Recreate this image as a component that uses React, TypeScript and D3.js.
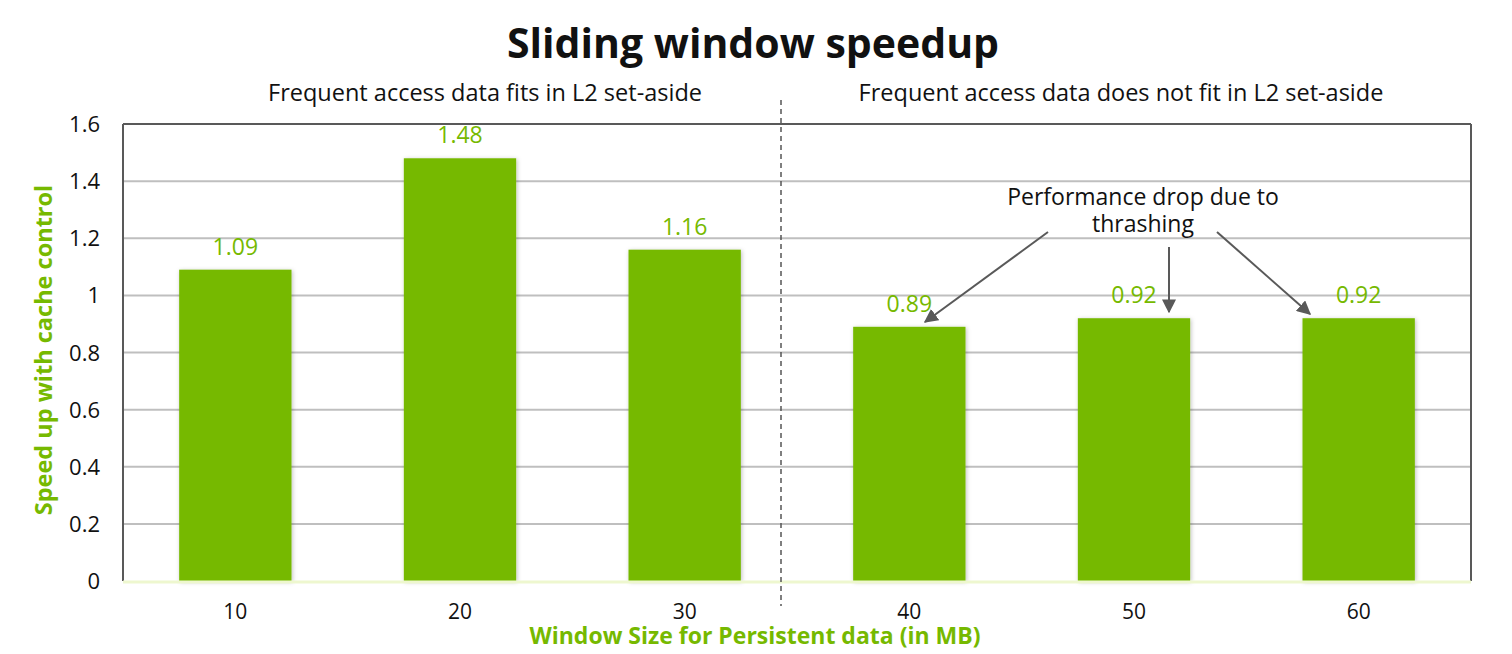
import React from "react";
import * as d3 from "d3";

const categories = ["10", "20", "30", "40", "50", "60"];
const speedups = [1.09, 1.48, 1.16, 0.89, 0.92, 0.92];
const yTicks = [0, 0.2, 0.4, 0.6, 0.8, 1, 1.2, 1.4, 1.6];
const title = "Sliding window speedup";
const leftNote = "Frequent access data fits in L2 set-aside";
const rightNote = "Frequent access data does not fit in L2 set-aside";
const thrashNote = ["Performance drop due to", "thrashing"];
const xTitle = "Window Size for Persistent data (in MB)";
const yTitle = "Speed up with cache control";

const W = 1512;
const H = 654;
const FONT = "'Open Sans', sans-serif";
const GREEN = "#76b900";

export default function App() {
  const left = 123, right = 1471, top = 124, bottom = 581;
  const x = d3.scaleBand<string>().domain(categories).range([left, right]).paddingInner(0.5).paddingOuter(0.25);
  const y = d3.scaleLinear().domain([0, 1.6]).range([bottom, top]);
  const fmt = (v: number) => (v === 0 || v === 1 ? String(v) : v.toFixed(1));
  const divX = 781;
  const cx = (c: string) => x(c)! + x.bandwidth() / 2;

  return (
    <svg width={W} height={H} style={{ position: "absolute", left: 0, top: 0, background: "#fff" }} fontFamily={FONT}>
      <defs>
        <filter id="sh" x="-10%" y="-10%" width="130%" height="130%">
          <feDropShadow dx="1" dy="1" stdDeviation="2" floodColor="#000" floodOpacity="0.25" />
        </filter>
        <marker id="ah" viewBox="0 0 10 10" refX="9" refY="5" markerWidth="4.5" markerHeight="4.5" orient="auto-start-reverse">
          <path d="M0,0 L10,5 L0,10 z" fill="#0b8a5f" />
        </marker>
        <marker id="gh" viewBox="0 0 10 10" refX="9" refY="5" markerWidth="7" markerHeight="7" orient="auto">
          <path d="M0,0 L10,5 L0,10 z" fill="#595959" />
        </marker>
      </defs>
      {/* title */}
      <text x={753} y={58} textAnchor="middle" fontSize={41} fontWeight="bold" fill="#111">{title}</text>
      <text x={485} y={101} textAnchor="middle" fontSize={23.5} fill="#111">{leftNote}</text>
      <text x={1121} y={101} textAnchor="middle" fontSize={23.5} fill="#111">{rightNote}</text>

      {/* gridlines */}
      {yTicks.slice(1, -1).map((t) => (
        <line key={t} x1={left} x2={right} y1={y(t)} y2={y(t)} stroke="#bfbfbf" strokeWidth={2} />
      ))}
      {/* frame */}
      <line x1={left} x2={right} y1={y(1.6)} y2={y(1.6)} stroke="#595959" strokeWidth={2} />
      <line x1={left} x2={left} y1={top} y2={bottom} stroke="#595959" strokeWidth={2} />
      <line x1={right} x2={right} y1={top} y2={bottom} stroke="#595959" strokeWidth={2} />

      {/* y ticks */}
      {yTicks.map((t) => (
        <text key={t} x={100} y={y(t) + 8} textAnchor="end" fontSize={22} fill="#111">{fmt(t)}</text>
      ))}

      {/* bars */}
      {categories.map((c, i) => (
        <rect key={c} x={x(c)} y={y(speedups[i])} width={x.bandwidth()} height={bottom - y(speedups[i])} fill={GREEN} filter="url(#sh)" />
      ))}
      <line x1={left} x2={right} y1={bottom + 1} y2={bottom + 1} stroke="#eef7cf" strokeWidth={3} />

      {/* value labels */}
      {categories.map((c, i) => (
        <text key={c} x={cx(c)} y={y(speedups[i]) - 15} textAnchor="middle" fontSize={23} fill={GREEN}>{speedups[i].toFixed(2)}</text>
      ))}

      {/* x ticks */}
      {categories.map((c) => (
        <text key={c} x={cx(c)} y={619} textAnchor="middle" fontSize={21} fill="#111">{c}</text>
      ))}

      {/* divider */}
      <line x1={divX} x2={divX} y1={100} y2={606} stroke="#555" strokeWidth={1.5} strokeDasharray="5,4" />

      {/* double arrow */}
      <line x1={528} x2={1074} y1={143} y2={143} stroke="#0b8a5f" strokeWidth={4} markerStart="url(#ah)" markerEnd="url(#ah)" filter="url(#sh)" />

      {/* thrashing annotation */}
      <text x={1143} y={205} textAnchor="middle" fontSize={23} fill="#111">{thrashNote[0]}</text>
      <text x={1143} y={232} textAnchor="middle" fontSize={23} fill="#111">{thrashNote[1]}</text>
      <line x1={1048} y1={232} x2={925} y2={322} stroke="#595959" strokeWidth={2} markerEnd="url(#gh)" />
      <line x1={1169} y1={247} x2={1169} y2={312} stroke="#595959" strokeWidth={2} markerEnd="url(#gh)" />
      <line x1={1217} y1={232} x2={1310} y2={314} stroke="#595959" strokeWidth={2} markerEnd="url(#gh)" />

      {/* axis titles */}
      <text x={755} y={644} textAnchor="middle" fontSize={23} fontWeight="bold" fill={GREEN}>{xTitle}</text>
      <text transform={`translate(52,${350}) rotate(-90)`} textAnchor="middle" fontSize={23.5} fontWeight="bold" fill={GREEN}>{yTitle}</text>
    </svg>
  );
}
